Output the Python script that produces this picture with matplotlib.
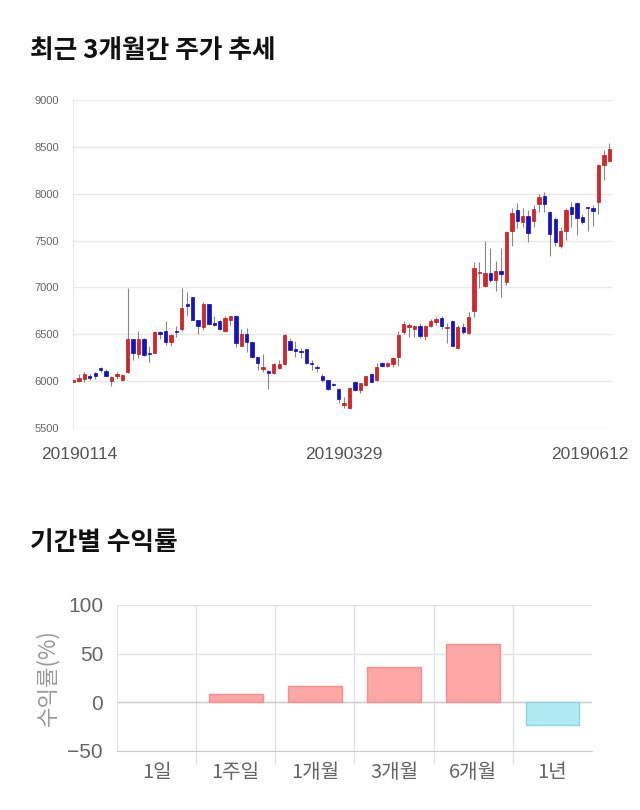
import numpy as np
import matplotlib as mpl
mpl.use('Agg')
import matplotlib.pyplot as plt
import matplotlib.ticker as tick
import matplotlib.transforms as mtrans

#--------------------------------------------------------------------------------------------------------
# data

vOpen  = [5995, 6000, 6020, 6060, 6090, 6140, 6110, 6000, 6055, 6010,
          6100, 6450, 6285, 6450, 6305, 6300, 6520, 6535, 6420, 6535,
          6555, 6820, 6900, 6650, 6580, 6820, 6620, 6640, 6530, 6650,
          6700, 6380, 6505, 6415, 6255, 6130, 6110, 6090, 6145, 6180,
          6430, 6340, 6315, 6340, 6190, 6145, 6055, 6010, 5965, 5920,
          5750, 5710, 5995, 5905, 5955, 6080, 6015, 6190, 6160, 6185,
          6255, 6520, 6580, 6555, 6585, 6480, 6590, 6635, 6670, 6565,
          6645, 6355, 6580, 6510, 6750, 7150, 7020, 7155, 7080, 7170,
          7055, 7600, 7825, 7695, 7765, 7705, 7885, 7980, 7810, 7725,
          7445, 7600, 7860, 7900, 7750, 7850, 7850, 7910, 8310, 8350]
vHigh  = [6010, 6080, 6100, 6080, 6100, 6150, 6130, 6060, 6100, 6080,
          6990, 6450, 6530, 6460, 6380, 6530, 6530, 6640, 6500, 6590,
          6990, 6950, 6900, 6650, 6840, 6820, 6700, 6650, 6690, 6700,
          6710, 6560, 6570, 6420, 6260, 6290, 6120, 6190, 6230, 6500,
          6460, 6430, 6350, 6345, 6230, 6170, 6080, 6015, 5975, 5925,
          5830, 5935, 6000, 5985, 6060, 6085, 6190, 6200, 6200, 6260,
          6540, 6640, 6620, 6600, 6620, 6600, 6660, 6680, 6700, 6620,
          6650, 6600, 6620, 6740, 7270, 7270, 7500, 7420, 7280, 7420,
          7600, 7850, 7900, 7850, 7830, 7880, 8000, 8020, 7820, 7750,
          7640, 7850, 7910, 7910, 7780, 7860, 7880, 8320, 8470, 8540]
vLow   = [5990, 5990, 5990, 6010, 6020, 6100, 6040, 5945, 6020, 6000,
          6090, 6230, 6250, 6270, 6200, 6300, 6450, 6390, 6380, 6470,
          6530, 6700, 6650, 6500, 6550, 6600, 6590, 6550, 6520, 6600,
          6360, 6370, 6310, 6250, 6120, 6100, 5920, 6080, 6130, 6170,
          6330, 6260, 6250, 6185, 6120, 6100, 5990, 5910, 5950, 5770,
          5710, 5705, 5900, 5870, 5950, 5990, 6000, 6150, 6150, 6150,
          6160, 6500, 6470, 6470, 6460, 6440, 6580, 6600, 6560, 6410,
          6370, 6340, 6500, 6500, 6680, 6990, 7000, 7060, 6960, 6900,
          7030, 7440, 7630, 7650, 7480, 7640, 7810, 7800, 7340, 7440,
          7420, 7510, 7640, 7560, 7680, 7600, 7660, 7780, 8150, 8360]
vClose = [6000, 6035, 6080, 6030, 6060, 6115, 6060, 6045, 6075, 6070,
          6450, 6300, 6450, 6280, 6285, 6520, 6500, 6420, 6490, 6520,
          6780, 6800, 6650, 6590, 6820, 6610, 6600, 6560, 6670, 6690,
          6410, 6505, 6415, 6255, 6190, 6150, 6090, 6180, 6180, 6495,
          6335, 6320, 6310, 6190, 6185, 6140, 6010, 5920, 5960, 5805,
          5770, 5930, 5905, 5980, 6055, 5995, 6150, 6160, 6190, 6245,
          6495, 6610, 6600, 6585, 6480, 6590, 6645, 6660, 6590, 6580,
          6380, 6580, 6520, 6680, 7205, 7160, 7155, 7080, 7180, 7145,
          7590, 7795, 7705, 7765, 7580, 7840, 7965, 7895, 7575, 7480,
          7605, 7830, 7785, 7740, 7700, 7845, 7820, 8310, 8410, 8475]
vDateTick    = [0, 50, 99]
vDateLabel   = ['20190114', '20190329', '20190612']

vPeriod = ['1일', '1주일', '1개월', '3개월', '6개월', '1년']
vReturn = [0.0, 8.2, 17.0, 36.3, 59.6, -23.3]

#--------------------------------------------------------------------------------------------------------

fNum = ['Liberation Sans', 'Noto Sans CJK KR']
fKor = ['Noto Sans CJK KR', 'DejaVu Sans']
plt.rcParams['font.family'] = fNum

fig = plt.figure(figsize=(6.4, 8.1), dpi=100)

fig.text(30/640, 1-50/810, '최근 3개월간 주가 추세', family=fKor, fontsize=18.5, fontweight='bold', color='#111111', va='center', ha='left')
fig.text(30/640, 1-543/810, '기간별 수익률', family=fKor, fontsize=18.5, fontweight='bold', color='#111111', va='center', ha='left')

# --- candle chart
ax1 = fig.add_axes([73/640, 1-428/810, (612-73)/640, (428-100)/810])
o = np.array(vOpen); h = np.array(vHigh); l = np.array(vLow); c = np.array(vClose)
x = np.arange(len(o))
up = c >= o
colUp, colDn = '#d6242a', '#1212c8'
ax1.vlines(x, l, h, color='#888888', linewidth=0.8, zorder=2)
bodyLo = np.minimum(o, c)
bodyH  = np.maximum(np.abs(c-o), 12)
ax1.bar(x[up],  bodyH[up],  bottom=bodyLo[up],  width=0.62, color=colUp, edgecolor='#b51d1d', linewidth=0.5, zorder=3)
ax1.bar(x[~up], bodyH[~up], bottom=bodyLo[~up], width=0.62, color=colDn, edgecolor='#10109a', linewidth=0.5, zorder=3)

ax1.set_xlim(-0.1, len(o)-0.5)
ax1.set_ylim(5500, 9000)
ax1.yaxis.set_major_locator(tick.MultipleLocator(500))
ax1.grid(axis='y', color='#e8e8e8', linewidth=1.0)
ax1.set_axisbelow(True)
for s in ['top', 'right', 'bottom']: ax1.spines[s].set_visible(False)
ax1.spines['left'].set_color('#e8e8e8')
ax1.tick_params(axis='y', length=0, pad=10, labelsize=8, labelcolor='#666666')
ax1.set_xticks(vDateTick)
ax1.set_xticklabels(vDateLabel)
ax1.tick_params(axis='x', length=0, pad=14, labelsize=12.5, labelcolor='#555555')
tl = ax1.get_xticklabels()
tl[0].set_transform(tl[0].get_transform() + mtrans.ScaledTranslation(6/100, 0, fig.dpi_scale_trans))
tl[-1].set_transform(tl[-1].get_transform() + mtrans.ScaledTranslation(-19/100, 0, fig.dpi_scale_trans))

# --- period return bars
ax2 = fig.add_axes([117/640, 1-751/810, (592-117)/640, (751-605)/810])
xb = np.arange(len(vPeriod))
vFace = ['#ffa6a6' if v >= 0 else '#b0eaf2' for v in vReturn]
vEdge = ['#f09090' if v >= 0 else '#90d4de' for v in vReturn]
vLw   = [0.0 if v == 0 else 1.0 for v in vReturn]
ax2.bar(xb, vReturn, width=0.68, color=vFace, edgecolor=vEdge, linewidth=vLw, zorder=3)
ax2.set_xlim(-0.5, len(vPeriod)-0.5)
ax2.set_ylim(-50, 100)
ax2.yaxis.set_major_locator(tick.MultipleLocator(50))
ax2.set_xticks(xb)
ax2.set_xticklabels(vPeriod, family=fKor)
ax2.set_xticks(xb[:-1]+0.5, minor=True)
ax2.grid(axis='y', which='major', color='#e3e3e3', linewidth=1.0)
ax2.grid(axis='x', which='minor', color='#e3e3e3', linewidth=1.0)
ax2.axhline(0, color='#cccccc', linewidth=1.0, zorder=2)
ax2.set_axisbelow(True)
for s in ['top', 'right']: ax2.spines[s].set_visible(False)
ax2.spines['left'].set_color('#e3e3e3')
ax2.spines['bottom'].set_color('#cccccc')
ax2.tick_params(axis='y', length=0, pad=10, labelsize=15, labelcolor='#666666')
ax2.tick_params(axis='x', which='major', length=0, pad=8, labelsize=14.5, labelcolor='#666666')
ax2.tick_params(axis='x', which='minor', length=9, width=1.0, color='#e3e3e3')
ax2.set_ylabel('수익률(%)', family=fKor, fontsize=16, color='#999999', labelpad=6)

plt.savefig('out.png', dpi=100)
